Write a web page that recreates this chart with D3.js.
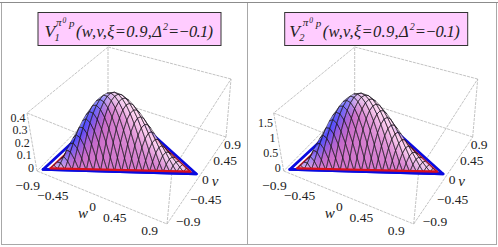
<!DOCTYPE html>
<html>
<head>
<meta charset="utf-8">
<script src="https://cdn.jsdelivr.net/npm/d3@7"></script>
<style>
html,body{margin:0;padding:0;background:#fff;}
svg{display:block;}
text{font-family:"Liberation Serif",serif;fill:#222;}
</style>
</head>
<body>
<svg id="chart"></svg>
<script>
var svgWidth=498,svgHeight=247;

var wTicks=[-0.9,-0.45,0,0.45,0.9];
var vTicks=[-0.9,-0.45,0,0.45,0.9];
var z1Ticks=[0,0.1,0.2,0.3,0.4];
var z2Ticks=[0,0.5,1,1.5];
var z1Top=0.47,z2Top=1.96;

// heights, one row per mesh line going away from the right corner
var v1Rows=[
[0,0,0,0,0,0,0,0,0,0,0,0,0,0,0,0,0,0,0,0,0],
[0,.023,.050,.078,.103,.125,.143,.156,.166,.170,.170,.166,.156,.143,.125,.103,.078,.050,.023,0],
[0,.041,.091,.139,.182,.220,.249,.271,.285,.289,.285,.271,.249,.220,.182,.139,.091,.041,0],
[0,.056,.123,.187,.244,.292,.328,.354,.366,.366,.354,.328,.292,.244,.187,.123,.056,0],
[0,.068,.148,.224,.290,.344,.383,.407,.416,.407,.383,.344,.290,.224,.148,.068,0],
[0,.077,.166,.250,.321,.377,.415,.435,.435,.415,.377,.321,.250,.166,.077,0],
[0,.083,.179,.267,.339,.393,.426,.437,.426,.393,.339,.267,.179,.083,0],
[0,.087,.186,.274,.344,.393,.417,.417,.393,.344,.274,.186,.087,0],
[0,.089,.187,.273,.337,.377,.391,.377,.337,.273,.187,.089,0],
[0,.088,.184,.264,.320,.348,.348,.320,.264,.184,.088,0],
[0,.085,.175,.246,.291,.307,.291,.246,.175,.085,0],
[0,.081,.163,.223,.254,.254,.223,.163,.081,0],
[0,.074,.146,.192,.209,.192,.146,.074,0],
[0,.066,.125,.157,.157,.125,.066,0],
[0,.056,.102,.118,.102,.056,0],
[0,.046,.076,.076,.046,0],
[0,.034,.048,.034,0],
[0,.022,.022,0],
[0,.010,0],
[0,0],
[0]
];
var v2Rows=[
[0,0,0,0,0,0,0,0,0,0,0,0,0,0,0,0,0,0,0,0,0],
[0,.093,.207,.318,.420,.510,.583,.640,.678,.698,.698,.678,.640,.583,.510,.420,.318,.207,.093,0],
[0,.168,.370,.568,.746,.898,1.020,1.110,1.164,1.183,1.164,1.110,1.020,.898,.746,.568,.370,.168,0],
[0,.229,.501,.763,.997,1.193,1.343,1.447,1.497,1.497,1.447,1.343,1.193,.997,.763,.501,.229,0],
[0,.277,.605,.915,1.186,1.407,1.568,1.667,1.700,1.667,1.568,1.407,1.186,.915,.605,.277,0],
[0,.314,.681,1.023,1.315,1.543,1.699,1.778,1.778,1.699,1.543,1.315,1.023,.681,.314,0],
[0,.341,.733,1.092,1.388,1.609,1.743,1.789,1.743,1.609,1.388,1.092,.733,.341,0],
[0,.357,.761,1.121,1.409,1.607,1.708,1.708,1.607,1.409,1.121,.761,.357,0],
[0,.363,.767,1.116,1.380,1.544,1.599,1.544,1.380,1.116,.767,.363,0],
[0,.361,.753,1.078,1.307,1.425,1.425,1.307,1.078,.753,.361,0],
[0,.350,.718,1.008,1.191,1.254,1.191,1.008,.718,.350,0],
[0,.330,.665,.910,1.038,1.038,.910,.665,.330,0],
[0,.304,.596,.787,.853,.787,.596,.304,0],
[0,.270,.511,.643,.643,.511,.270,0],
[0,.231,.415,.481,.415,.231,0],
[0,.186,.309,.309,.186,0],
[0,.138,.198,.138,0],
[0,.088,.088,0],
[0,.039,0],
[0,0],
[0]
];

// triangle corners as [w,v]: left, right, back
var redTriangle=[[-0.792,-0.756],[0.756,0.108],[-0.72,0.846]];
var blueTriangle=[[-0.855,-0.828],[0.846,0.108],[-0.774,0.9]];

// screen corners of the box, bottom then top
var bottomCorners={L:[37,171],F:[167,224],R:[226,137],B:[108,99]};
var topCorners={L:[27,113],F:[172,171],R:[231,79],B:[108,47]};

var wScale=d3.scaleLinear().domain([-0.9,0.9]).range([0,1]);
var vScale=d3.scaleLinear().domain([-0.9,0.9]).range([0,1]);

function bilinear(c,u,t){
    return [0,1].map(k=>(1-u)*(1-t)*c.L[k]+u*(1-t)*c.F[k]+u*t*c.R[k]+(1-u)*t*c.B[k]);
}

var svg=d3.select('#chart').attr('width',svgWidth).attr('height',svgHeight);
var line=d3.line();

var defs=svg.append('defs');
defs.append('filter').attr('id','soft')
    .attr('x','-10%').attr('y','-10%').attr('width','120%').attr('height','120%')
    .append('feGaussianBlur').attr('stdDeviation',2.2);

var leftShade=d3.scaleLinear().domain([-0.6,0,0.7])
    .range(['#4042ff','#cc6cc8','#ffd0f0']).clamp(true);
var lightShade=d3.scaleLinear().domain([0.5,0.95]).range([0,0.6]).clamp(true);

function drawPanel(opt){
    var g=svg.append('g').attr('transform','translate('+opt.dx+',0)');
    var zScale=d3.scaleLinear().domain([0,opt.zTop]).range([0,1]);

    function project(w,v,z){
        var u=wScale(w),t=vScale(v),h=zScale(z);
        var a=bilinear(bottomCorners,u,t),b=bilinear(topCorners,u,t);
        return [a[0]+(b[0]-a[0])*h,a[1]+(b[1]-a[1])*h];
    }

    // box
    var boxEdges=[
        [[-0.9,-0.9,0],[0.9,-0.9,0]],[[0.9,-0.9,0],[0.9,0.9,0]],[[0.9,0.9,0],[-0.9,0.9,0]],[[-0.9,0.9,0],[-0.9,-0.9,0]],
        [[-0.9,-0.9,opt.zTop],[0.9,-0.9,opt.zTop]],[[0.9,-0.9,opt.zTop],[0.9,0.9,opt.zTop]],
        [[0.9,0.9,opt.zTop],[-0.9,0.9,opt.zTop]],[[-0.9,0.9,opt.zTop],[-0.9,-0.9,opt.zTop]],
        [[-0.9,-0.9,0],[-0.9,-0.9,opt.zTop]],[[0.9,-0.9,0],[0.9,-0.9,opt.zTop]],
        [[0.9,0.9,0],[0.9,0.9,opt.zTop]],[[-0.9,0.9,0],[-0.9,0.9,opt.zTop]]
    ];
    g.append('g').selectAll('path').data(boxEdges).enter().append('path')
        .attr('d',d=>line(d.map(p=>project(p[0],p[1],p[2]))))
        .attr('fill','none').attr('stroke','#b4b4b4').attr('stroke-width',0.8)
        .attr('stroke-dasharray','3 1');

    function triPath(tri,closed){
        var pts=tri.map(p=>project(p[0],p[1],0));
        return line(pts)+(closed?'Z':'');
    }
    g.append('path').attr('d',triPath(blueTriangle,true)).attr('fill','#fff')
        .attr('stroke','#0a0ae0').attr('stroke-width',2.8).attr('stroke-linejoin','round');
    g.append('path').attr('d',triPath(redTriangle,true)).attr('fill','none')
        .attr('stroke','#d8101c').attr('stroke-width',2.2).attr('stroke-linejoin','miter');

    // surface vertices from the height rows
    var A=redTriangle[0],B=redTriangle[1],C=redTriangle[2],N=opt.rows.length-1;
    function vertex(i,j){
        var a=i/N,b=j/N,c=1-a-b;
        var w=a*A[0]+b*B[0]+c*C[0],v=a*A[1]+b*B[1]+c*C[1],z=opt.rows[j][i];
        return {w:w,v:v,z:z,s:project(w,v,z),g:project(w,v,0),m:[wScale(w),vScale(v),zScale(z)*0.62]};
    }
    var facets=[];
    opt.rows.forEach((row,j)=>{
        row.forEach((z,i)=>{
            if(i+j>=N) return;
            var cell=[vertex(i,j),vertex(i+1,j),vertex(i,j+1)];
            if(i+j+1<N) cell=[vertex(i,j),vertex(i+1,j),vertex(i+1,j+1),vertex(i,j+1)];
            facets.push(cell);
        });
    });
    facets=facets.filter(f=>Math.abs(d3.polygonArea(f.map(p=>p.s)))>0.01);
    var sign=d3.sum(facets,f=>d3.polygonArea(f.map(p=>p.s)))>0?1:-1;
    var facing=facets.filter(f=>sign*d3.polygonArea(f.map(p=>p.s))>0);
    facing.sort((p,q)=>d3.mean(p,d=>d.g[1])-d3.mean(q,d=>d.g[1]));

    // flat back slopes also face the viewer, drop them when a nearer cell covers them
    var front=facing.filter((f,k)=>{
        var c=[d3.mean(f,d=>d.s[0]),d3.mean(f,d=>d.s[1])];
        return !facing.slice(k+1).some(o=>d3.polygonContains(o.map(p=>p.s),c));
    });

    function facetColor(f){
        var p0=f[0].m,p1=f[1].m,p2=f[f.length-1].m;
        var e1=[p1[0]-p0[0],p1[1]-p0[1],p1[2]-p0[2]],e2=[p2[0]-p0[0],p2[1]-p0[1],p2[2]-p0[2]];
        var n=[e1[1]*e2[2]-e1[2]*e2[1],e1[2]*e2[0]-e1[0]*e2[2],e1[0]*e2[1]-e1[1]*e2[0]];
        var len=Math.hypot(n[0],n[1],n[2]);
        if(n[2]<0) len=-len;
        n=n.map(d=>d/len);
        var toRight=n[0]*0.92+n[1]*0.4;
        return d3.interpolateRgb(leftShade(toRight),'#f8f0ff')(lightShade(n[2]));
    }

    var clipId='surface'+opt.id;
    defs.append('clipPath').attr('id',clipId).selectAll('path').data(front).enter().append('path')
        .attr('d',f=>line(f.map(p=>p.s))+'Z');
    g.append('g').attr('clip-path','url(#'+clipId+')')
        .append('g').attr('filter','url(#soft)')
        .selectAll('path').data(front).enter().append('path')
        .attr('d',f=>line(f.map(p=>p.s))+'Z')
        .attr('fill',facetColor).attr('stroke',facetColor).attr('stroke-width',1);
    g.append('g').selectAll('path').data(front).enter().append('path')
        .attr('d',f=>line(f.map(p=>p.s))+'Z')
        .attr('fill','none').attr('stroke','#1c1420').attr('stroke-width',0.55);

    // front edges sit on top of the surface
    g.append('path').attr('d',triPath([blueTriangle[0],blueTriangle[1]],false)).attr('fill','none')
        .attr('stroke','#0a0ae0').attr('stroke-width',2.8).attr('stroke-linecap','round');
    g.append('path').attr('d',triPath([redTriangle[0],redTriangle[1]],false)).attr('fill','none')
        .attr('stroke','#d8101c').attr('stroke-width',2.2).attr('stroke-linecap','round');

    // tick labels
    var labels=g.append('g').style('font-size','13.5px');
    var wPos=[[3,14],[-1,11],[-6,9],[-8,7],[-9,6]];
    wTicks.forEach((d,i)=>{
        var p=project(d,-0.9,0);
        labels.append('text').attr('x',p[0]+wPos[i][0]).attr('y',p[1]+wPos[i][1]+4.5)
            .attr('text-anchor','end').text(String(d).replace('-','\u2212'));
    });
    var vPos=[[9,-3],[8.5,-3],[5.5,-1.5],[2,2],[-2,7]];
    vTicks.forEach((d,i)=>{
        var p=project(0.9,d,0);
        labels.append('text').attr('x',p[0]+vPos[i][0]).attr('y',p[1]+vPos[i][1]+4.5)
            .attr('text-anchor','start').text(String(d).replace('-','\u2212'));
    });
    opt.zTicks.forEach(d=>{
        var p=project(-0.9,-0.9,d);
        labels.append('text').attr('x',p[0]-3).attr('y',p[1]+0.5)
            .attr('text-anchor','end').style('font-size','12px').text(d);
    });
    g.append('text').attr('x',83).attr('y',218).attr('text-anchor','middle')
        .style('font-size','15px').style('font-style','italic').text('w');
    g.append('text').attr('x',215).attr('y',186).attr('text-anchor','middle')
        .style('font-size','15px').style('font-style','italic').text('v');

    // title box
    g.append('rect').attr('x',38).attr('y',12.5).attr('width',183).attr('height',33)
        .attr('fill','#ffccff').attr('stroke','#333').attr('stroke-width',1);
    var title=g.append('g').style('font-style','italic');
    title.append('text').attr('x',44.5+opt.vDx).attr('y',37).style('font-size','17.5px').text('V');
    title.append('text').attr('x',54.5+opt.vDx).attr('y',41).style('font-size','10.5px').text(opt.sub);
    title.append('text').attr('x',56).attr('y',26).style('font-size','11px').text('\u03c0');
    title.append('text').attr('x',62.5).attr('y',22.5).style('font-size','7.5px').text('0');
    title.append('text').attr('x',69).attr('y',27).style('font-size','11px').text('p');
    title.append('text').attr('x',76).attr('y',37).style('font-size','16.5px')
        .attr('textLength',86).attr('lengthAdjust','spacing').text('(w,v,\u03be=0.9,\u0394');
    title.append('text').attr('x',163).attr('y',30).style('font-size','10px').text('2');
    title.append('text').attr('x',168).attr('y',37).style('font-size','16.5px')
        .attr('textLength',45).attr('lengthAdjust','spacing').text('=\u22120.1)');
}

// panel frames
svg.append('rect').attr('x',1.5).attr('y',2.5).attr('width',246).attr('height',242)
    .attr('fill','none').attr('stroke','#a8a8a8').attr('stroke-width',1);
svg.append('rect').attr('x',247.5).attr('y',2.5).attr('width',249).attr('height',242)
    .attr('fill','none').attr('stroke','#a8a8a8').attr('stroke-width',1);
svg.append('line').attr('x1',0).attr('x2',498).attr('y1',2.5).attr('y2',2.5)
    .attr('stroke','#8c8c8c').attr('stroke-width',1);

drawPanel({id:1,dx:0,rows:v1Rows,zTop:z1Top,zTicks:z1Ticks,sub:'1',vDx:0});
drawPanel({id:2,dx:246.7,rows:v2Rows,zTop:z2Top,zTicks:z2Ticks,sub:'2',vDx:-2});
</script>
</body>
</html>
